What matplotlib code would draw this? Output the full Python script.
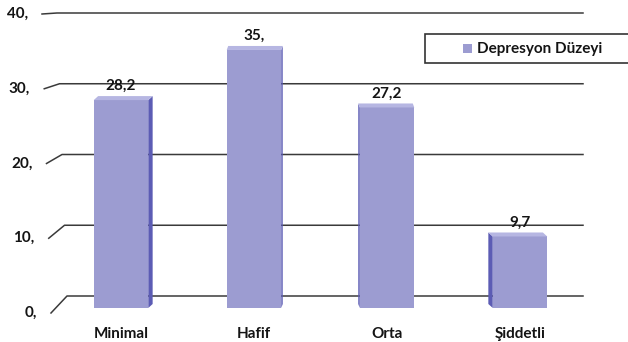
import matplotlib
matplotlib.use('Agg')
import matplotlib.pyplot as plt
from matplotlib.patches import Polygon, Rectangle
from matplotlib.lines import Line2D
from matplotlib.transforms import IdentityTransform

plt.rcParams['font.family'] = ['Lato', 'DejaVu Sans']
plt.rcParams['font.weight'] = 'bold'

# ── Data ──────────────────────────────────────────────────────────────────────
categories = ['Minimal', 'Hafif', 'Orta', 'Şiddetli']
values = [28.2, 35.0, 27.2, 9.7]
value_labels = ['28,2', '35,', '27,2', '9,7']
y_ticks = [0, 10, 20, 30, 40]
y_tick_labels = ['0,', '10,', '20,', '30,', '40,']
series_name = 'Depresyon Düzeyi'

FRONT = '#9c9cd1'
SIDE = '#5c5cb4'
TOP = '#b6b6e2'
GRID = '#3a3a3a'
TXT = '#141414'
FS = 11

W, H = 628, 342
fig = plt.figure(figsize=(W / 100, H / 100), dpi=100)
px = lambda x, y: (x / W, 1 - y / H)   # pixel (top-left origin) -> figure fraction

# back wall axes (gridlines) and front axes (bars), both 0..40
ax_back = fig.add_axes([67 / W, (H - 296) / H, (583 - 67) / W, 283 / H])
ax_back.set_ylim(0, 40)
ax_back.axis('off')

ax = fig.add_axes([54.5 / W, (H - 308) / H, 532 / W, 294.9 / H])
ax.set_xlim(-0.5, 3.5)
ax.set_ylim(0, 40)
ax.axis('off')

# ── Gridlines with perspective stubs (behind the bars) ───────────────────────
for v, lab in zip(y_ticks, y_tick_labels):
    by = H - ax_back.transData.transform((0, v))[1]
    fy = 313 - v * (313 - 14) / 40
    fx = 51 - 0.225 * v
    bx = 67 - 0.25 * v
    xs, ys = zip(px(fx, fy), px(bx, by), px(583, by))
    fig.add_artist(Line2D(xs, ys, color=GRID, lw=1.1, transform=fig.transFigure,
                          zorder=-1))
    fig.text(*px(fx - 14, fy), lab, ha='right', va='center',
             fontsize=FS, color=TXT)

# ── Bars ──────────────────────────────────────────────────────────────────────
x = range(len(categories))
bars = ax.bar(x, values, width=0.41, color=FRONT, zorder=3)
fig.canvas.draw()
for i, (b, lab) in enumerate(zip(bars, value_labels)):
    x0, y0 = ax.transData.transform((b.get_x(), 0))
    x1, y1 = ax.transData.transform((b.get_x() + b.get_width(), b.get_height()))
    cx = (x0 + x1) / 2
    dx = (320 - cx) * 0.022
    d = 4
    top = [(x0, y1), (x1, y1), (x1 + dx, y1 + d), (x0 + dx, y1 + d)]
    if dx > 0:
        side = [(x1, y0), (x1, y1), (x1 + dx, y1 + d), (x1 + dx, y0 + d)]
    else:
        side = [(x0, y0), (x0, y1), (x0 + dx, y1 + d), (x0 + dx, y0 + d)]
    fig.add_artist(Polygon(side, closed=True, facecolor=SIDE, edgecolor='none',
                           transform=IdentityTransform(), zorder=4))
    fig.add_artist(Polygon(top, closed=True, facecolor=TOP, edgecolor='none',
                           transform=IdentityTransform(), zorder=4))
    ax.annotate(lab, (i, values[i]), xytext=(0, 5), textcoords='offset points',
                ha='center', va='bottom', fontsize=FS, color=TXT,
                annotation_clip=False)
    ax.text(i, -(334 - 308) / 7.371, categories[i], ha='center', va='center',
            fontsize=FS, color=TXT)

# ── Legend box ────────────────────────────────────────────────────────────────
lx0, ly0 = px(425, 63)
lx1, ly1 = px(640, 34)
fig.add_artist(Rectangle((lx0, ly0), lx1 - lx0, ly1 - ly0, transform=fig.transFigure,
                         facecolor='white', edgecolor='#333333', lw=1.2, clip_on=False))
mx, my = px(463, 53)
fig.add_artist(Rectangle((mx, my), 9 / W, 9 / H, transform=fig.transFigure,
                         facecolor=FRONT, edgecolor='none'))
fig.text(*px(477, 48.5), series_name, ha='left', va='center', fontsize=FS,
         color=TXT)

fig.savefig('out.png', dpi=100)
